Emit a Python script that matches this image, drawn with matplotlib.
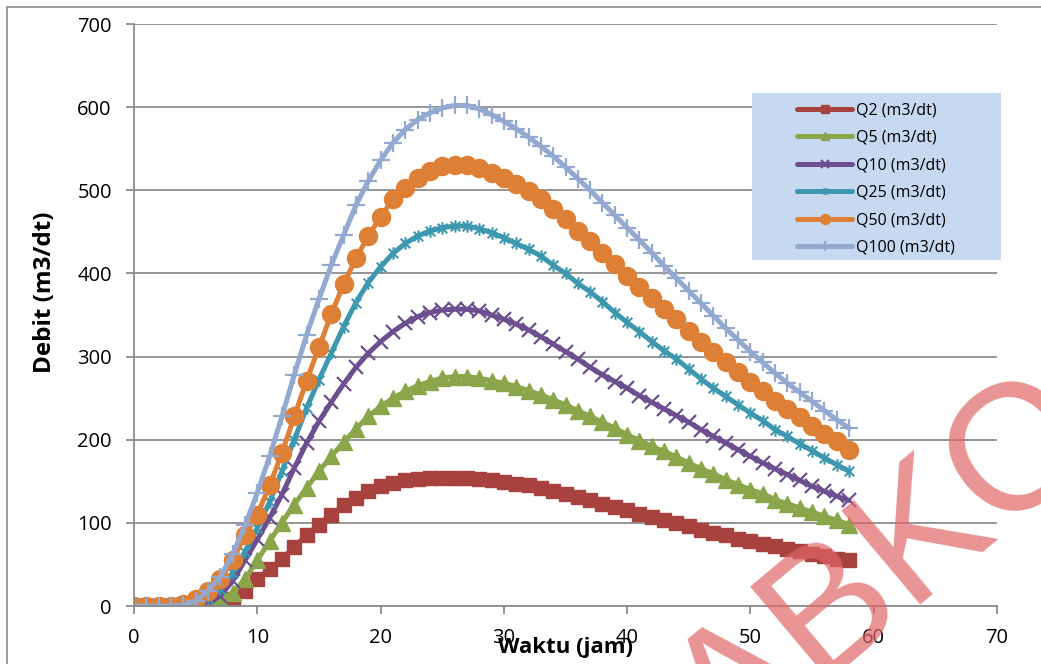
import matplotlib
matplotlib.use("Agg")
import matplotlib.pyplot as plt
from matplotlib.patches import Rectangle
from matplotlib.path import Path

# jam ke-
waktu = list(range(59))

q2 = [0, 0, 0, 0, 0, 1, 2, 4, 8, 18,
      32, 44, 57, 71, 85, 98, 110, 121, 130, 138,
      144, 148, 151, 153, 154, 154, 154, 154, 153, 151,
      149, 147, 145, 142, 138, 135, 131, 127, 123, 119,
      115, 111, 107, 104, 100, 96, 92, 88, 85, 81,
      78, 75, 72, 69, 66, 63, 60, 57, 55]
q5 = [0, 0, 0, 0, 0, 1, 3, 8, 16, 32,
      55, 78, 100, 122, 142, 162, 180, 197, 213, 228,
      240, 250, 258, 265, 270, 274, 276, 276, 274, 271,
      268, 264, 259, 254, 248, 242, 235, 228, 221, 214,
      206, 199, 192, 186, 179, 172, 165, 159, 152, 146,
      140, 135, 128, 123, 118, 113, 108, 103, 98]
q10 = [0, 0, 0, 0, 1, 2, 5, 12, 30, 55,
       80, 106, 134, 166, 196, 222, 245, 267, 287, 304,
       318, 330, 340, 348, 353, 356, 357, 357, 355, 350,
       345, 339, 332, 324, 315, 306, 297, 287, 278, 270,
       262, 253, 245, 237, 229, 221, 212, 204, 196, 188,
       180, 172, 165, 158, 151, 144, 138, 132, 127]
q25 = [0, 0, 0, 0, 1, 4, 10, 20, 40, 65,
       94, 125, 162, 200, 238, 272, 304, 336, 365, 389,
       408, 424, 436, 445, 451, 455, 457, 457, 454, 449,
       443, 436, 429, 421, 410, 400, 388, 378, 366, 353,
       341, 330, 318, 307, 297, 285, 273, 262, 252, 242,
       232, 223, 212, 204, 195, 187, 178, 170, 162]
q50 = [0, 0, 0, 0, 2, 8, 18, 32, 55, 85,
       110, 145, 184, 228, 271, 311, 351, 387, 418, 445,
       468, 489, 503, 515, 523, 529, 531, 531, 527, 521,
       515, 507, 499, 489, 477, 465, 451, 439, 425, 411,
       397, 384, 370, 357, 345, 331, 317, 305, 293, 281,
       270, 259, 247, 237, 227, 217, 207, 198, 188]
q100 = [0, 0, 0, 0, 1, 6, 18, 35, 62, 97,
        136, 180, 228, 278, 326, 369, 410, 446, 482, 511,
        536, 557, 573, 585, 593, 599, 602, 602, 598, 591,
        583, 574, 564, 553, 541, 528, 514, 500, 485, 470,
        455, 440, 425, 409, 394, 379, 364, 349, 334, 320,
        306, 293, 280, 268, 257, 246, 235, 224, 214]

labels = ["Q2 (m3/dt)", "Q5 (m3/dt)", "Q10 (m3/dt)",
          "Q25 (m3/dt)", "Q50 (m3/dt)", "Q100 (m3/dt)"]

# excel-like star marker: x with a vertical bar
star = Path([(-1, -1), (1, 1), (-1, 1), (1, -1), (0, -1.3), (0, 1.3)],
            [Path.MOVETO, Path.LINETO, Path.MOVETO, Path.LINETO,
             Path.MOVETO, Path.LINETO])

styles = [
    dict(color="#A7423E", marker="s", ms=10),
    dict(color="#8BA64A", marker="^", ms=11),
    dict(color="#6C4F8F", marker="x", ms=10, mew=1.6),
    dict(color="#3D97AE", marker=star, ms=9, mew=1.5),
    dict(color="#DD8036", marker="o", ms=13),
    dict(color="#93A9CF", marker="+", ms=13, mew=1.6),
]

plt.rcParams["font.family"] = ["Open Sans", "DejaVu Sans"]

fig = plt.figure(figsize=(10.41, 6.64), dpi=100)
fig.patches.append(Rectangle((7 / 1041, -0.05), 1.1, 1.05 - 7 / 664,
                             transform=fig.transFigure, fill=False,
                             edgecolor="#8C8C8C", lw=1.2))
ax = fig.add_axes([134 / 1041, 1 - 606 / 664, (997 - 134) / 1041, (606 - 24) / 664])

series = [q2, q5, q10, q25, q50, q100]
for ys, lab, st in zip(series, labels, styles):
    ax.plot(waktu, ys, lw=3.6, label=lab, solid_capstyle="round", **st)

ax.set_xlim(0, 70)
ax.set_ylim(0, 700)
ax.set_xticks(range(0, 71, 10))
ax.set_yticks(range(0, 701, 100))
ax.grid(axis="y", color="#8C8C8C", lw=1.3)
ax.set_axisbelow(True)
for s in ["top", "right"]:
    ax.spines[s].set_visible(False)
for s in ["left", "bottom"]:
    ax.spines[s].set_color("#8C8C8C")
    ax.spines[s].set_linewidth(1.3)
ax.tick_params(axis="both", colors="#8C8C8C", length=6, width=1.3,
               labelsize=14.5, labelcolor="black")
ax.tick_params(axis="x", pad=10)
ax.tick_params(axis="y", pad=10)

fig.text(45 / 1041, 1 - 292 / 664, "Debit (m3/dt)", rotation=90, ha="center",
         va="center", fontsize=17.5, fontweight="bold")
fig.text(566 / 1041, 1 - 648 / 664, "Waktu (jam)", ha="center", va="center",
         fontsize=16, fontweight="bold")

# legend box
fig.patches.append(Rectangle((752 / 1041, 1 - 260 / 664), 249 / 1041, 167 / 664,
                             transform=fig.transFigure, facecolor="#C6D9F0",
                             edgecolor="none", zorder=3))
leg = fig.legend(loc="upper left", bbox_to_anchor=(783 / 1041, 1 - 88 / 664),
                 frameon=False, fontsize=11.5, handlelength=3.4,
                 handletextpad=0.25, labelspacing=0.72, markerscale=0.55)
leg.set_zorder(4)

# watermark
fig.text(728 / 1041, 1 - 765 / 664, "ABKO", rotation=40, rotation_mode="anchor",
         ha="left", va="baseline", fontsize=128, color="#E06666", alpha=0.7,
         family="Liberation Sans", zorder=10)

fig.savefig("out.png", dpi=100)
